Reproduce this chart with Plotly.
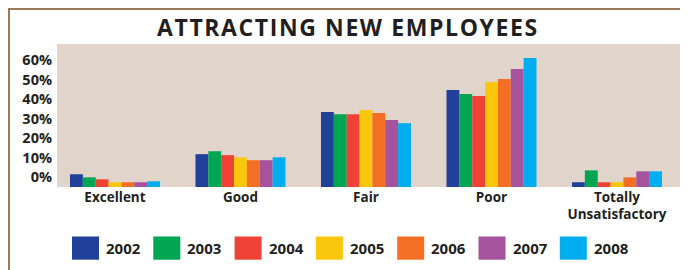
import plotly.graph_objects as go

CATEGORIES = ["Excellent", "Good", "Fair", "Poor", "Totally Unsatisfactory"]
CATEGORY_LABELS = ["Excellent", "Good", "Fair", "Poor", "Totally<br>Unsatisfactory"]
YEARS = ["2002", "2003", "2004", "2005", "2006", "2007", "2008"]

# values read against the printed % labels
Y2002 = [1.4, 11.7, 33.3, 44.6, -2.7]
Y2003 = [-0.2, 13.2, 32.2, 42.5, 3.4]
Y2004 = [-1.2, 11.2, 32.2, 41.5, -2.7]
Y2005 = [-2.7, 10.1, 34.3, 48.7, -2.7]
Y2006 = [-2.7, 8.6, 32.8, 50.2, -0.2]
Y2007 = [-2.7, 8.6, 29.2, 55.4, 2.9]
Y2008 = [-2.2, 10.1, 27.6, 61.0, 2.9]
SERIES = [Y2002, Y2003, Y2004, Y2005, Y2006, Y2007, Y2008]

COLORS = ["#21409a", "#00a651", "#ef4136", "#fbc70d", "#f36f23", "#a4539c", "#00aeef"]

TEXT = "#231f20"
FONT = "Open Sans"
Y_FLOOR = -5.14
Y_TOP = 68.2

fig = go.Figure()
for year, vals, col in zip(YEARS, SERIES, COLORS):
    fig.add_trace(go.Bar(
        name=year, x=CATEGORIES, y=[v - Y_FLOOR for v in vals], base=Y_FLOOR,
        marker=dict(color=col, line=dict(width=0)), showlegend=False,
    ))

# page body adds an 8px offset; margins compensate
fig.update_layout(
    width=688, height=270,
    margin=dict(l=49, r=14, t=36, b=91, pad=0),
    paper_bgcolor="white", plot_bgcolor="#e1d4cb",
    barmode="group", bargap=0.283, bargroupgap=0,
    font=dict(family=FONT, color=TEXT),
    showlegend=False,
    xaxis=dict(type="category", range=[-0.462, 4.518], tickmode="array",
               tickvals=CATEGORIES, ticktext=CATEGORY_LABELS,
               showgrid=False, zeroline=False, showline=False, ticks="",
               tickfont=dict(family=FONT, size=13.5, color=TEXT, weight=700)),
    yaxis=dict(range=[Y_FLOOR, Y_TOP], tick0=0, dtick=10, ticksuffix="%",
               showgrid=False, zeroline=False, showline=False, ticks="",
               ticklabelstandoff=4,
               tickfont=dict(family=FONT, size=14.5, color=TEXT, weight=700)),
)

# title
fig.add_annotation(
    text='<span style="letter-spacing:1.6px">ATTRACTING NEW EMPLOYEES</span>',
    xref="paper", yref="paper", x=(348 - 57) / 625, y=1, yshift=17,
    xanchor="center", yanchor="middle", showarrow=False,
    font=dict(family=FONT, size=23, color=TEXT, weight=700),
)

# frame lines at the figure edges
BORDER = "#9c7b5b"
fig.add_shape(type="line", xref="paper", yref="paper", xsizemode="pixel", ysizemode="pixel",
              xanchor=0, yanchor=1, x0=-49, x1=640, y0=35, y1=35,
              line=dict(color=BORDER, width=2), layer="above")
fig.add_shape(type="line", xref="paper", yref="paper", xsizemode="pixel", ysizemode="pixel",
              xanchor=0, yanchor=1, x0=-48, x1=-48, y0=36, y1=-240,
              line=dict(color=BORDER, width=2), layer="above")

# legend
LEG_X0 = 72 - 57
LEG_STEP = 81.3
for i, (year, col) in enumerate(zip(YEARS, COLORS)):
    x0 = LEG_X0 + i * LEG_STEP
    fig.add_shape(type="rect", xref="paper", yref="paper", xsizemode="pixel", ysizemode="pixel",
                  xanchor=0, yanchor=0, x0=x0, x1=x0 + 27, y0=-49.5, y1=-72.7,
                  fillcolor=col, line=dict(width=0))
    fig.add_annotation(text=year, xref="paper", yref="paper", x=0, y=0,
                       xshift=x0 + 32, yshift=-60.5, xanchor="left", yanchor="middle",
                       showarrow=False,
                       font=dict(family=FONT, size=15, color=TEXT, weight=700))

fig.write_html("out.html")
